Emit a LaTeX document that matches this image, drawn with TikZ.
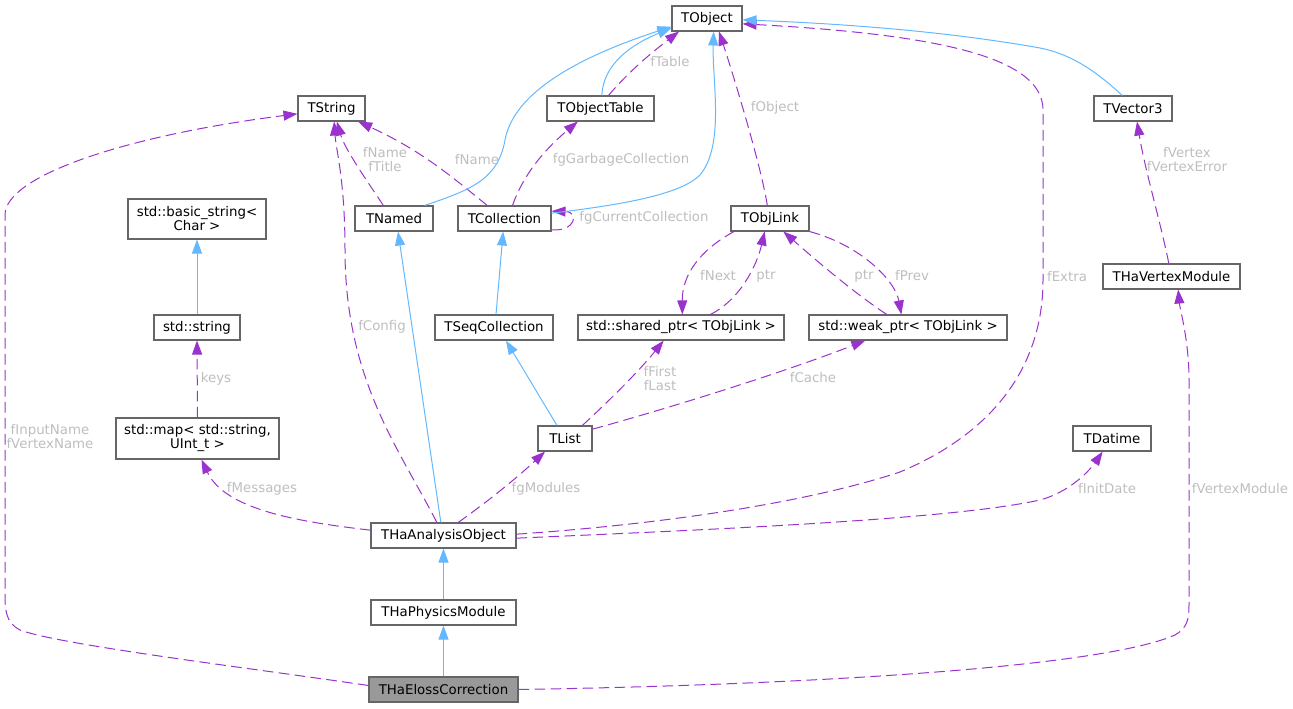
\documentclass[tikz,border=0pt]{standalone}
\usepackage{fontspec}
\setmainfont{DejaVu Sans}
\usetikzlibrary{arrows.meta}
\definecolor{boxline}{HTML}{666666}
\definecolor{curfill}{HTML}{999999}
\definecolor{inhblue}{HTML}{63B8FF}
\definecolor{usepurple}{HTML}{9A32CD}
\definecolor{lblgrey}{HTML}{BEBEBE}
\tikzset{
  cls/.style={draw=boxline,fill=white,line width=0.8pt,minimum height=18.75pt,inner sep=1pt,align=center,font=\fontsize{10}{10.5}\selectfont},
  curcls/.style={cls,fill=curfill},
  inherit/.style={-{Triangle[length=10.5pt,width=7.5pt]},draw=inhblue,line width=0.75pt},
  member/.style={-{Triangle[length=10.5pt,width=7.5pt]},draw=usepurple,line width=0.75pt,dash pattern=on 8pt off 4pt},
  lbl/.style={text=lblgrey,align=center,font=\fontsize{10}{10.5}\selectfont}}

\begin{document}
\begin{tikzpicture}[x=0.75pt,y=-0.75pt]
  \useasboundingbox (0,0) rectangle (1293,709);
  \node[cls,minimum width=52.5pt] (tobject) at (707,18.5) {TObject};
  \node[cls,minimum width=50.25pt] (tstring) at (331.5,108.5) {TString};
  \node[cls,minimum width=80.25pt] (tobjtable) at (600.5,108.5) {TObjectTable};
  \node[cls,minimum width=58.5pt] (tvector) at (1133,108.5) {TVector3};
  \node[cls,minimum width=103.5pt,minimum height=30pt] (basicstr) at (197,219) {std::basic\_string\textless\\Char \textgreater};
  \node[cls,minimum width=58.5pt] (tnamed) at (394,218.5) {TNamed};
  \node[cls,minimum width=69.75pt] (tcoll) at (504.5,218.5) {TCollection};
  \node[cls,minimum width=58.5pt] (tobjlink) at (770,218.5) {TObjLink};
  \node[cls,minimum width=102.75pt] (vertexmod) at (1171.5,276.5) {THaVertexModule};
  \node[cls,minimum width=64.5pt] (stdstring) at (197,327.5) {std::string};
  \node[cls,minimum width=88.5pt] (tseqcoll) at (494,327.5) {TSeqCollection};
  \node[cls,minimum width=154.5pt] (sharedptr) at (681,327.5) {std::shared\_ptr\textless{} TObjLink \textgreater};
  \node[cls,minimum width=148.5pt] (weakptr) at (908,327.5) {std::weak\_ptr\textless{} TObjLink \textgreater};
  \node[cls,minimum width=122.25pt,minimum height=30.75pt] (stdmap) at (197.5,438.5) {std::map\textless{} std::string,\\UInt\_t \textgreater};
  \node[cls,minimum width=40.5pt] (tlist) at (565,438.5) {TList};
  \node[cls,minimum width=58.5pt] (tdatime) at (1112,438.5) {TDatime};
  \node[cls,minimum width=108.75pt] (analysis) at (443.5,535.5) {THaAnalysisObject};
  \node[cls,minimum width=108.75pt] (physics) at (443.5,612.5) {THaPhysicsModule};
  \node[curcls,minimum width=111.75pt] (eloss) at (443.5,689.5) {THaElossCorrection};

  \draw[member] ([xshift=6pt]tobjtable.north) .. controls (630,70) and (655,50) .. (tobject.205);
  \draw[member] ([xshift=6pt]tcoll.north) .. controls (525,170) and (550,145) .. ([xshift=-17pt]tobjtable.south);
  \draw[member] ([yshift=-8.5pt]tcoll.east) .. controls (575,232) and (580,212) .. ([yshift=5.5pt]tcoll.east);
  \draw[member] ([xshift=-13pt]tcoll.north) .. controls (450,175) and (420,150) .. ([xshift=20pt]tstring.south);
  \draw[member] ([xshift=-8pt]tnamed.north) .. controls (370,185) and (345,150) .. ([xshift=4pt]tstring.south);
  \draw[member] ([xshift=-2pt]tobjlink.north) .. controls (762,170) and (735,80) .. ([xshift=9pt]tobject.south);
  \draw[member] ([xshift=-27pt]tobjlink.south) .. controls (700,250) and (682,275) .. ([xshift=1pt]sharedptr.north);
  \draw[member] ([xshift=22pt]sharedptr.north) .. controls (740,300) and (757,265) .. ([xshift=-4pt]tobjlink.south);
  \draw[member] ([xshift=-16pt]weakptr.north) .. controls (850,290) and (810,255) .. ([xshift=10pt]tobjlink.south);
  \draw[member] (tobjlink.south east) .. controls (860,245) and (895,280) .. ([xshift=-5pt]weakptr.north);
  \draw[member] ([xshift=13pt]tlist.north) .. controls (610,400) and (640,370) .. ([xshift=-13pt]sharedptr.south);
  \draw[member] ([yshift=7pt]tlist.east) .. controls (680,405) and (790,370) .. ([xshift=-32pt]weakptr.south);
  \draw[member] (stdmap.north) -- (stdstring.south);
  \draw[member] ([yshift=4pt]analysis.west) .. controls (300,522) and (225,510) .. ([xshift=3pt]stdmap.south);
  \draw[member] ([xshift=-5pt]analysis.north) .. controls (400,450) and (345,380) .. (345,250)
    .. controls (345,180) and (336,150) .. ([xshift=2pt]tstring.south);
  \draw[member] ([xshift=11pt]analysis.north) .. controls (490,500) and (520,475) .. ([xshift=-15pt]tlist.south);
  \draw[member] ([yshift=1pt]analysis.east) .. controls (650,525) and (800,505) .. (900,472)
    .. controls (1000,430) and (1043,360) .. (1043,280) -- (1043,110)
    .. controls (1043,60) and (950,35) .. ([yshift=-4pt]tobject.east);
  \draw[member] ([yshift=-2pt]analysis.east) .. controls (700,530) and (950,520) .. (1040,500)
    .. controls (1070,492) and (1090,470) .. ([xshift=-7pt]tdatime.south);
  \draw[member] ([yshift=3pt]eloss.west) .. controls (250,668) and (60,645) .. (20,630)
    .. controls (5,622) and (5,610) .. (5,590) -- (5,215)
    .. controls (5,175) and (130,135) .. ([yshift=-4pt]tstring.west);
  \draw[member] (eloss.east) .. controls (800,685) and (1100,668) .. (1175,635)
    .. controls (1187,628) and (1189,620) .. (1189,605) -- (1189,380)
    .. controls (1189,340) and (1180,310) .. ([xshift=5pt]vertexmod.south);
  \draw[member] ([xshift=-2pt]vertexmod.north) .. controls (1160,220) and (1145,170) .. ([xshift=3pt]tvector.south);

  \draw[inherit] ([xshift=1pt]tobjtable.north) .. controls (603,65) and (630,45) .. (tobject.195);
  \draw[inherit] ([xshift=23pt]tnamed.north) .. controls (470,190) and (498,180) .. (505,140)
    .. controls (515,85) and (600,50) .. (tobject.193);
  \draw[inherit] ([yshift=4pt]tcoll.east) .. controls (620,205) and (680,195) .. (700,175)
    .. controls (725,145) and (712,80) .. ([xshift=5pt]tobject.south);
  \draw[inherit] ([xshift=-8pt]tvector.north) .. controls (1100,75) and (1075,55) .. (1040,48)
    .. controls (950,32) and (850,24) .. ([yshift=-1pt]tobject.east);
  \draw[inherit] ([xshift=1.5pt]tseqcoll.north) -- ([xshift=-1pt]tcoll.south);
  \draw[inherit] ([xshift=-6pt]tlist.north) -- ([xshift=9pt]tseqcoll.south);
  \draw[inherit] ([xshift=-2pt]analysis.north) -- ([xshift=3pt]tnamed.south);
  \draw[inherit] (physics.north) -- (analysis.south);
  \draw[inherit] (eloss.north) -- (physics.south);
  \draw[inherit] (stdstring.north) -- (basicstr.south);

  \node[lbl] (lftable) at (670,62) {fTable};
  \node[lbl] (lfgarbage) at (621,160) {fgGarbageCollection};
  \node[lbl] (lfcurrent) at (644,218) {fgCurrentCollection};
  \node[lbl] (lfname) at (477,160) {fName};
  \node[lbl] (lfnametitle) at (385,160) {fName\\fTitle};
  \node[lbl] (lfobject) at (775,108) {fObject};
  \node[lbl] (lfnext) at (718,276) {fNext};
  \node[lbl] (lptra) at (766,276) {ptr};
  \node[lbl] (lptrb) at (864,276) {ptr};
  \node[lbl] (lfprev) at (912,276) {fPrev};
  \node[lbl] (lffirst) at (660,379) {fFirst\\fLast};
  \node[lbl] (lfcache) at (813,378) {fCache};
  \node[lbl] (lkeys) at (216,379) {keys};
  \node[lbl] (lfmessages) at (262,489) {fMessages};
  \node[lbl] (lfconfig) at (382,327) {fConfig};
  \node[lbl] (lfgmodules) at (546,489) {fgModules};
  \node[lbl] (lfextra) at (1067,277) {fExtra};
  \node[lbl] (lfinitdate) at (1107,489) {fInitDate};
  \node[lbl] (lfinput) at (50,437) {fInputName\\fVertexName};
  \node[lbl] (lfvertexmod) at (1240,489) {fVertexModule};
  \node[lbl] (lfvertex) at (1187,160) {fVertex\\fVertexError};
\end{tikzpicture}
\end{document}
